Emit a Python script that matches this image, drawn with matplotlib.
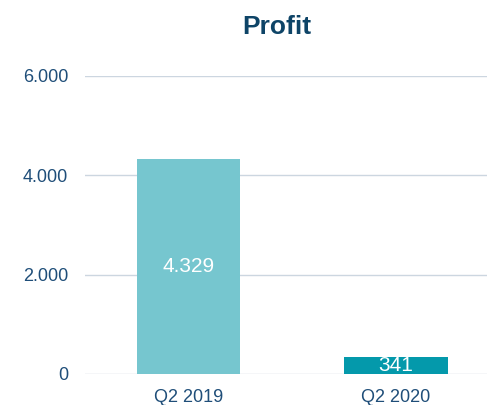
import matplotlib
matplotlib.use("Agg")
import matplotlib.pyplot as plt

categories = ["Q2 2019", "Q2 2020"]
values = [4329, 341]
labels = ["4.329", "341"]
colors = ["#76C6CF", "#0499AB"]
yticks = [0, 2000, 4000, 6000]
ytick_labels = ["0", "2.000", "4.000", "6.000"]

plt.rcParams['font.family'] = ['Liberation Sans', 'DejaVu Sans']

fig = plt.figure(figsize=(4.87, 4.05), dpi=100)
ax = fig.add_axes([85/487, 31/405, 414.5/487, 298/405])

x = list(range(len(categories)))
bars = ax.bar(x, values, width=0.5, color=colors, zorder=3)
for b, lab in zip(bars, labels):
    ax.text(b.get_x() + b.get_width()/2, b.get_height()/2, lab,
            ha='center', va='center', color='white', fontsize=15, zorder=4)

ax.set_xlim(-0.5, 1.5)
ax.set_ylim(0, 6000)
ax.set_yticks(yticks)
ax.set_yticklabels(ytick_labels)
ax.set_xticks(x)
ax.set_xticklabels(categories)
ax.tick_params(axis='both', length=0, colors='#1F4E79', labelsize=13)
ax.tick_params(axis='y', pad=12)
ax.tick_params(axis='x', pad=11)
ax.grid(axis='y', color='#CCD6E0', linewidth=1, zorder=0)
for s in ax.spines.values():
    s.set_visible(False)
ax.set_facecolor('white')

fig.text(277/487, 1 - 27/405, "Profit", ha='center', va='center',
         fontsize=19, fontweight='bold', color='#0E4467')

fig.savefig("out.png", dpi=100)
